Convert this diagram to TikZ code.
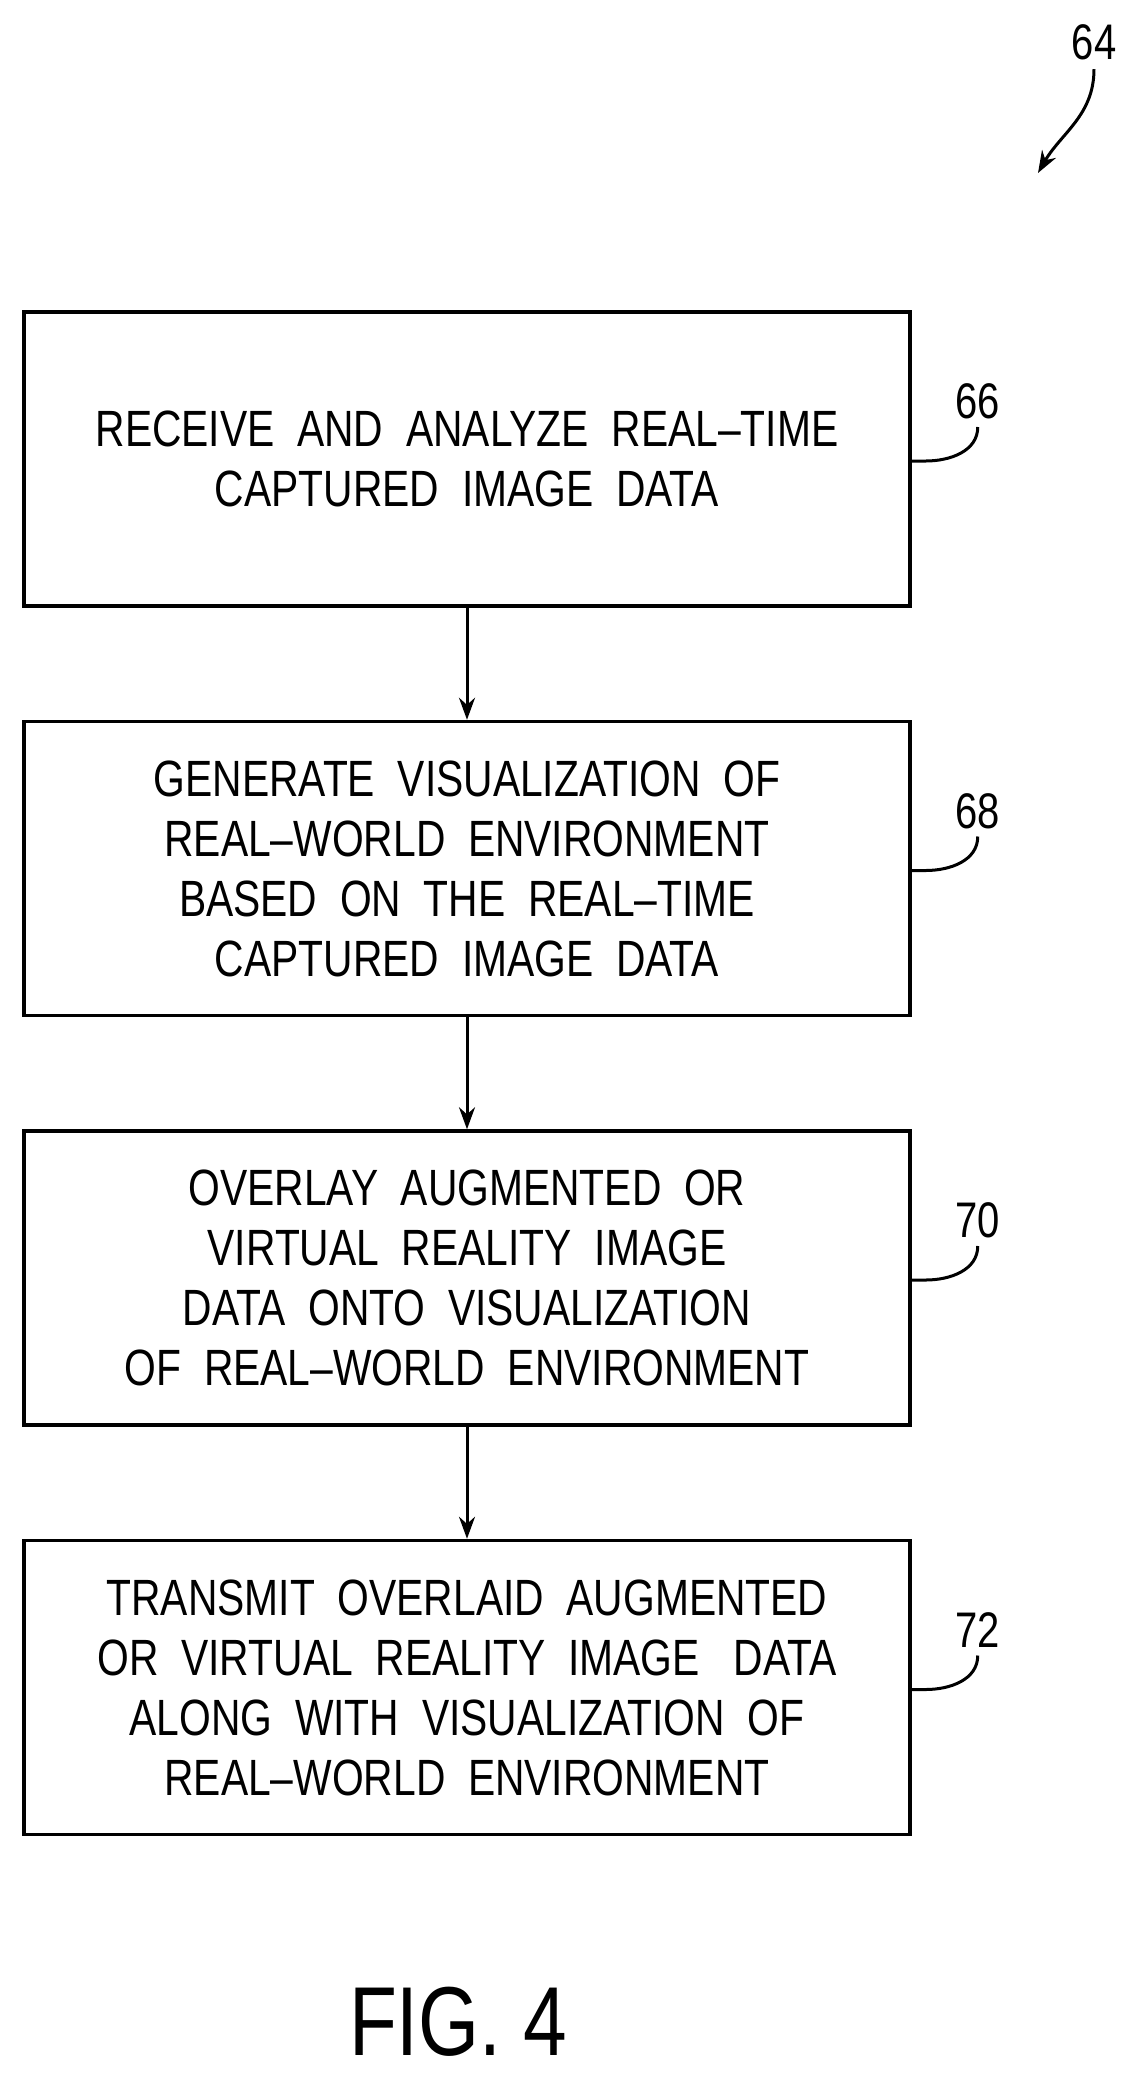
\documentclass[tikz,border=0pt]{standalone}
\usepackage{fontspec}
\setmainfont[FakeStretch=0.8]{Liberation Sans}
\usepackage{tikz}
\usetikzlibrary{arrows.meta,positioning}

\tikzset{
	stepbox/.style={draw,line width=3.5pt,minimum width=886pt,minimum height=294pt,
		align=center,font=\fontsize{51}{60}\selectfont,inner sep=0pt},
	flow/.style={-{Stealth[length=22pt,width=16pt]},line width=3pt},
	lead/.style={line width=3pt},
	ref/.style={font=\fontsize{50}{50}\selectfont}
}

\begin{document}
\begin{tikzpicture}[x=1pt,y=1pt]
	\useasboundingbox (0,0) rectangle (1134,-2081);

	\node[stepbox] (s66) at (467,-459) {RECEIVE\ \ AND\ \ ANALYZE\ \ REAL--TIME\\CAPTURED\ \ IMAGE\ \ DATA};
	\node[stepbox,below=112pt of s66] (s68) {GENERATE\ \ VISUALIZATION\ \ OF\\REAL--WORLD\ \ ENVIRONMENT\\BASED\ \ ON\ \ THE\ \ REAL--TIME\\CAPTURED\ \ IMAGE\ \ DATA};
	\node[stepbox,below=112pt of s68] (s70) {OVERLAY\ \ AUGMENTED\ \ OR\\VIRTUAL\ \ REALITY\ \ IMAGE\\DATA\ \ ONTO\ \ VISUALIZATION\\OF\ \ REAL--WORLD\ \ ENVIRONMENT};
	\node[stepbox,below=112pt of s70] (s72) {TRANSMIT\ \ OVERLAID\ \ AUGMENTED\\OR\ \ VIRTUAL\ \ REALITY\ \ IMAGE\ \ \ DATA\\ALONG\ \ WITH\ \ VISUALIZATION\ \ OF\\REAL--WORLD\ \ ENVIRONMENT};

	\draw[flow] (s66) -- (s68);
	\draw[flow] (s68) -- (s70);
	\draw[flow] (s70) -- (s72);

	% reference numerals
	\foreach \s in {66,68,70,72}{
		\node[ref,anchor=south] (n\s) at ([xshift=66pt,yshift=36pt]s\s.east) {\s};
		\draw[lead] ([yshift=-2pt]s\s.east) -- ++(14,0) to[out=0,in=-90] ([yshift=-4pt]n\s.south);
	}

	\node[ref] (n64) at (1094,-42) {64};
	\coordinate (c64) at (1038,-173);
	\draw[flow] ([yshift=-6pt]n64.south) to[out=-90,in=60] (c64);

	\node[font=\fontsize{98}{98}\selectfont] (fig) at (458,-2022) {FIG. 4};
\end{tikzpicture}
\end{document}
